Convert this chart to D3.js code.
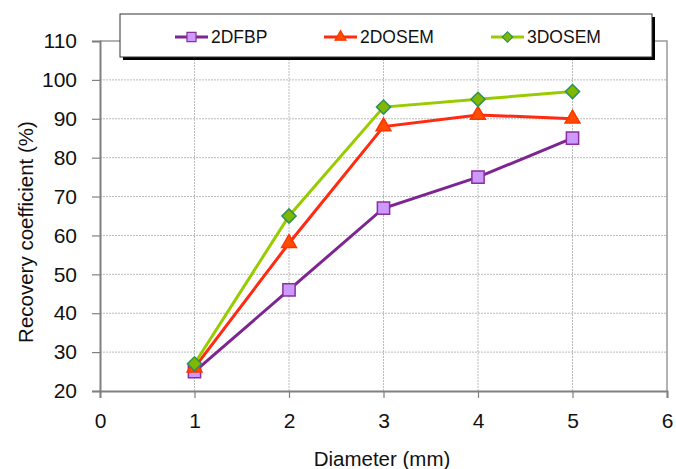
<!DOCTYPE html>
<html><head><meta charset="utf-8">
<script src="https://cdn.jsdelivr.net/npm/d3@7"></script>
<style>body{margin:0;background:#fff;} text{font-family:"Liberation Sans",Arial,sans-serif;fill:#111;}</style>
</head><body><svg id="c" width="676" height="469"></svg>
<script>
const diameters = [1, 2, 3, 4, 5];
const fbp2d = [25, 46, 67, 75, 85];
const osem2d = [26, 58, 88, 91, 90];
const osem3d = [27, 65, 93, 95, 97];
const xTicks = [0, 1, 2, 3, 4, 5, 6];
const yTicks = [20, 30, 40, 50, 60, 70, 80, 90, 100, 110];
const seriesNames = ["2DFBP", "2DOSEM", "3DOSEM"];

const svg = d3.select("#c");
const x = d3.scaleLinear().domain([0, 6]).range([100, 667]);
const y = d3.scaleLinear().domain([20, 110]).range([391, 41]);

const g = svg.append("g");
g.selectAll(".hg").data(yTicks.filter(v => v > 20 && v < 110)).enter().append("line")
  .attr("x1", x(0)).attr("x2", x(6)).attr("y1", d => y(d)).attr("y2", d => y(d))
  .attr("stroke", "#bbb").attr("stroke-width", 1).attr("stroke-dasharray", "2,1");
g.selectAll(".vg").data(xTicks.filter(v => v > 0 && v < 6)).enter().append("line")
  .attr("x1", d => x(d)).attr("x2", d => x(d)).attr("y1", y(110)).attr("y2", y(20))
  .attr("stroke", "#bbb").attr("stroke-width", 1).attr("stroke-dasharray", "2,1");
svg.append("path").attr("d", `M${x(0)},${y(110)}H${x(6)}V${y(20)}`)
  .attr("fill", "none").attr("stroke", "#999").attr("stroke-width", 1.5);

const yAxis = d3.axisLeft(y).tickValues(yTicks).tickFormat(d3.format("d")).tickSize(8).tickPadding(15);
const ya = svg.append("g").attr("transform", `translate(${x(0)},0)`).call(yAxis);
ya.select(".domain").attr("stroke", "#808080").attr("stroke-width", 2);
ya.selectAll(".tick line").attr("stroke", "#808080").attr("stroke-width", 1.2);
ya.selectAll("text").style("font-size", "21px").attr("fill", "#111");

const xAxis = d3.axisBottom(x).tickValues(xTicks).tickFormat(d3.format("d")).tickSize(7).tickPadding(15);
const xa = svg.append("g").attr("transform", `translate(0,${y(20)})`).call(xAxis);
xa.select(".domain").attr("stroke", "#808080").attr("stroke-width", 2);
xa.selectAll(".tick line").attr("stroke", "#808080").attr("stroke-width", 1.2);
xa.selectAll("text").style("font-size", "21px").attr("fill", "#111");

svg.append("text").attr("x", 382).attr("y", 466).attr("text-anchor", "middle")
  .style("font-size", "20.5px").text("Diameter (mm)");
svg.append("text").attr("transform", "translate(33,232) rotate(-90)").attr("text-anchor", "middle")
  .style("font-size", "20.5px").text("Recovery coefficient (%)");

const styles = [
  {data: fbp2d, line: "#7d2590", fill: "#cc99ff", stroke: "#8a2f9c", sym: d3.symbolSquare, size: 150, rot: 0},
  {data: osem2d, line: "#ff2a10", fill: "#ff4d00", stroke: "#ff3300", sym: d3.symbolTriangle, size: 95, rot: 0},
  {data: osem3d, line: "#99cc00", fill: "#7fb800", stroke: "#2f8f5a", sym: d3.symbolSquare, size: 100, rot: 45}
];
const line = d3.line().x((d, i) => x(diameters[i])).y(d => y(d));
styles.forEach(s => {
  svg.append("path").attr("d", line(s.data)).attr("fill", "none")
    .attr("stroke", s.line).attr("stroke-width", 3);
});
styles.forEach(s => {
  svg.selectAll(null).data(s.data).enter().append("path")
    .attr("d", d3.symbol().type(s.sym).size(s.size))
    .attr("transform", (d, i) => `translate(${x(diameters[i])},${y(d)}) rotate(${s.rot})`)
    .attr("fill", s.fill).attr("stroke", s.stroke).attr("stroke-width", 1.5);
});

svg.append("rect").attr("x", 123).attr("y", 17).attr("width", 532).attr("height", 43).attr("fill", "#000");
svg.append("rect").attr("x", 120).attr("y", 14).attr("width", 532).attr("height", 43)
  .attr("fill", "#fff").attr("stroke", "#333").attr("stroke-width", 1);
const lx = [175, 324, 491];
styles.forEach((s, i) => {
  svg.append("line").attr("x1", lx[i]).attr("x2", lx[i] + 33).attr("y1", 37).attr("y2", 37)
    .attr("stroke", s.line).attr("stroke-width", 3);
  svg.append("path").attr("d", d3.symbol().type(s.sym).size(s.size * 0.55))
    .attr("transform", `translate(${lx[i] + 16.5},37) rotate(${s.rot})`)
    .attr("fill", s.fill).attr("stroke", s.stroke).attr("stroke-width", 1.2);
  svg.append("text").attr("x", lx[i] + 36).attr("y", 43).style("font-size", "17.5px").text(seriesNames[i]);
});
</script></body></html>
